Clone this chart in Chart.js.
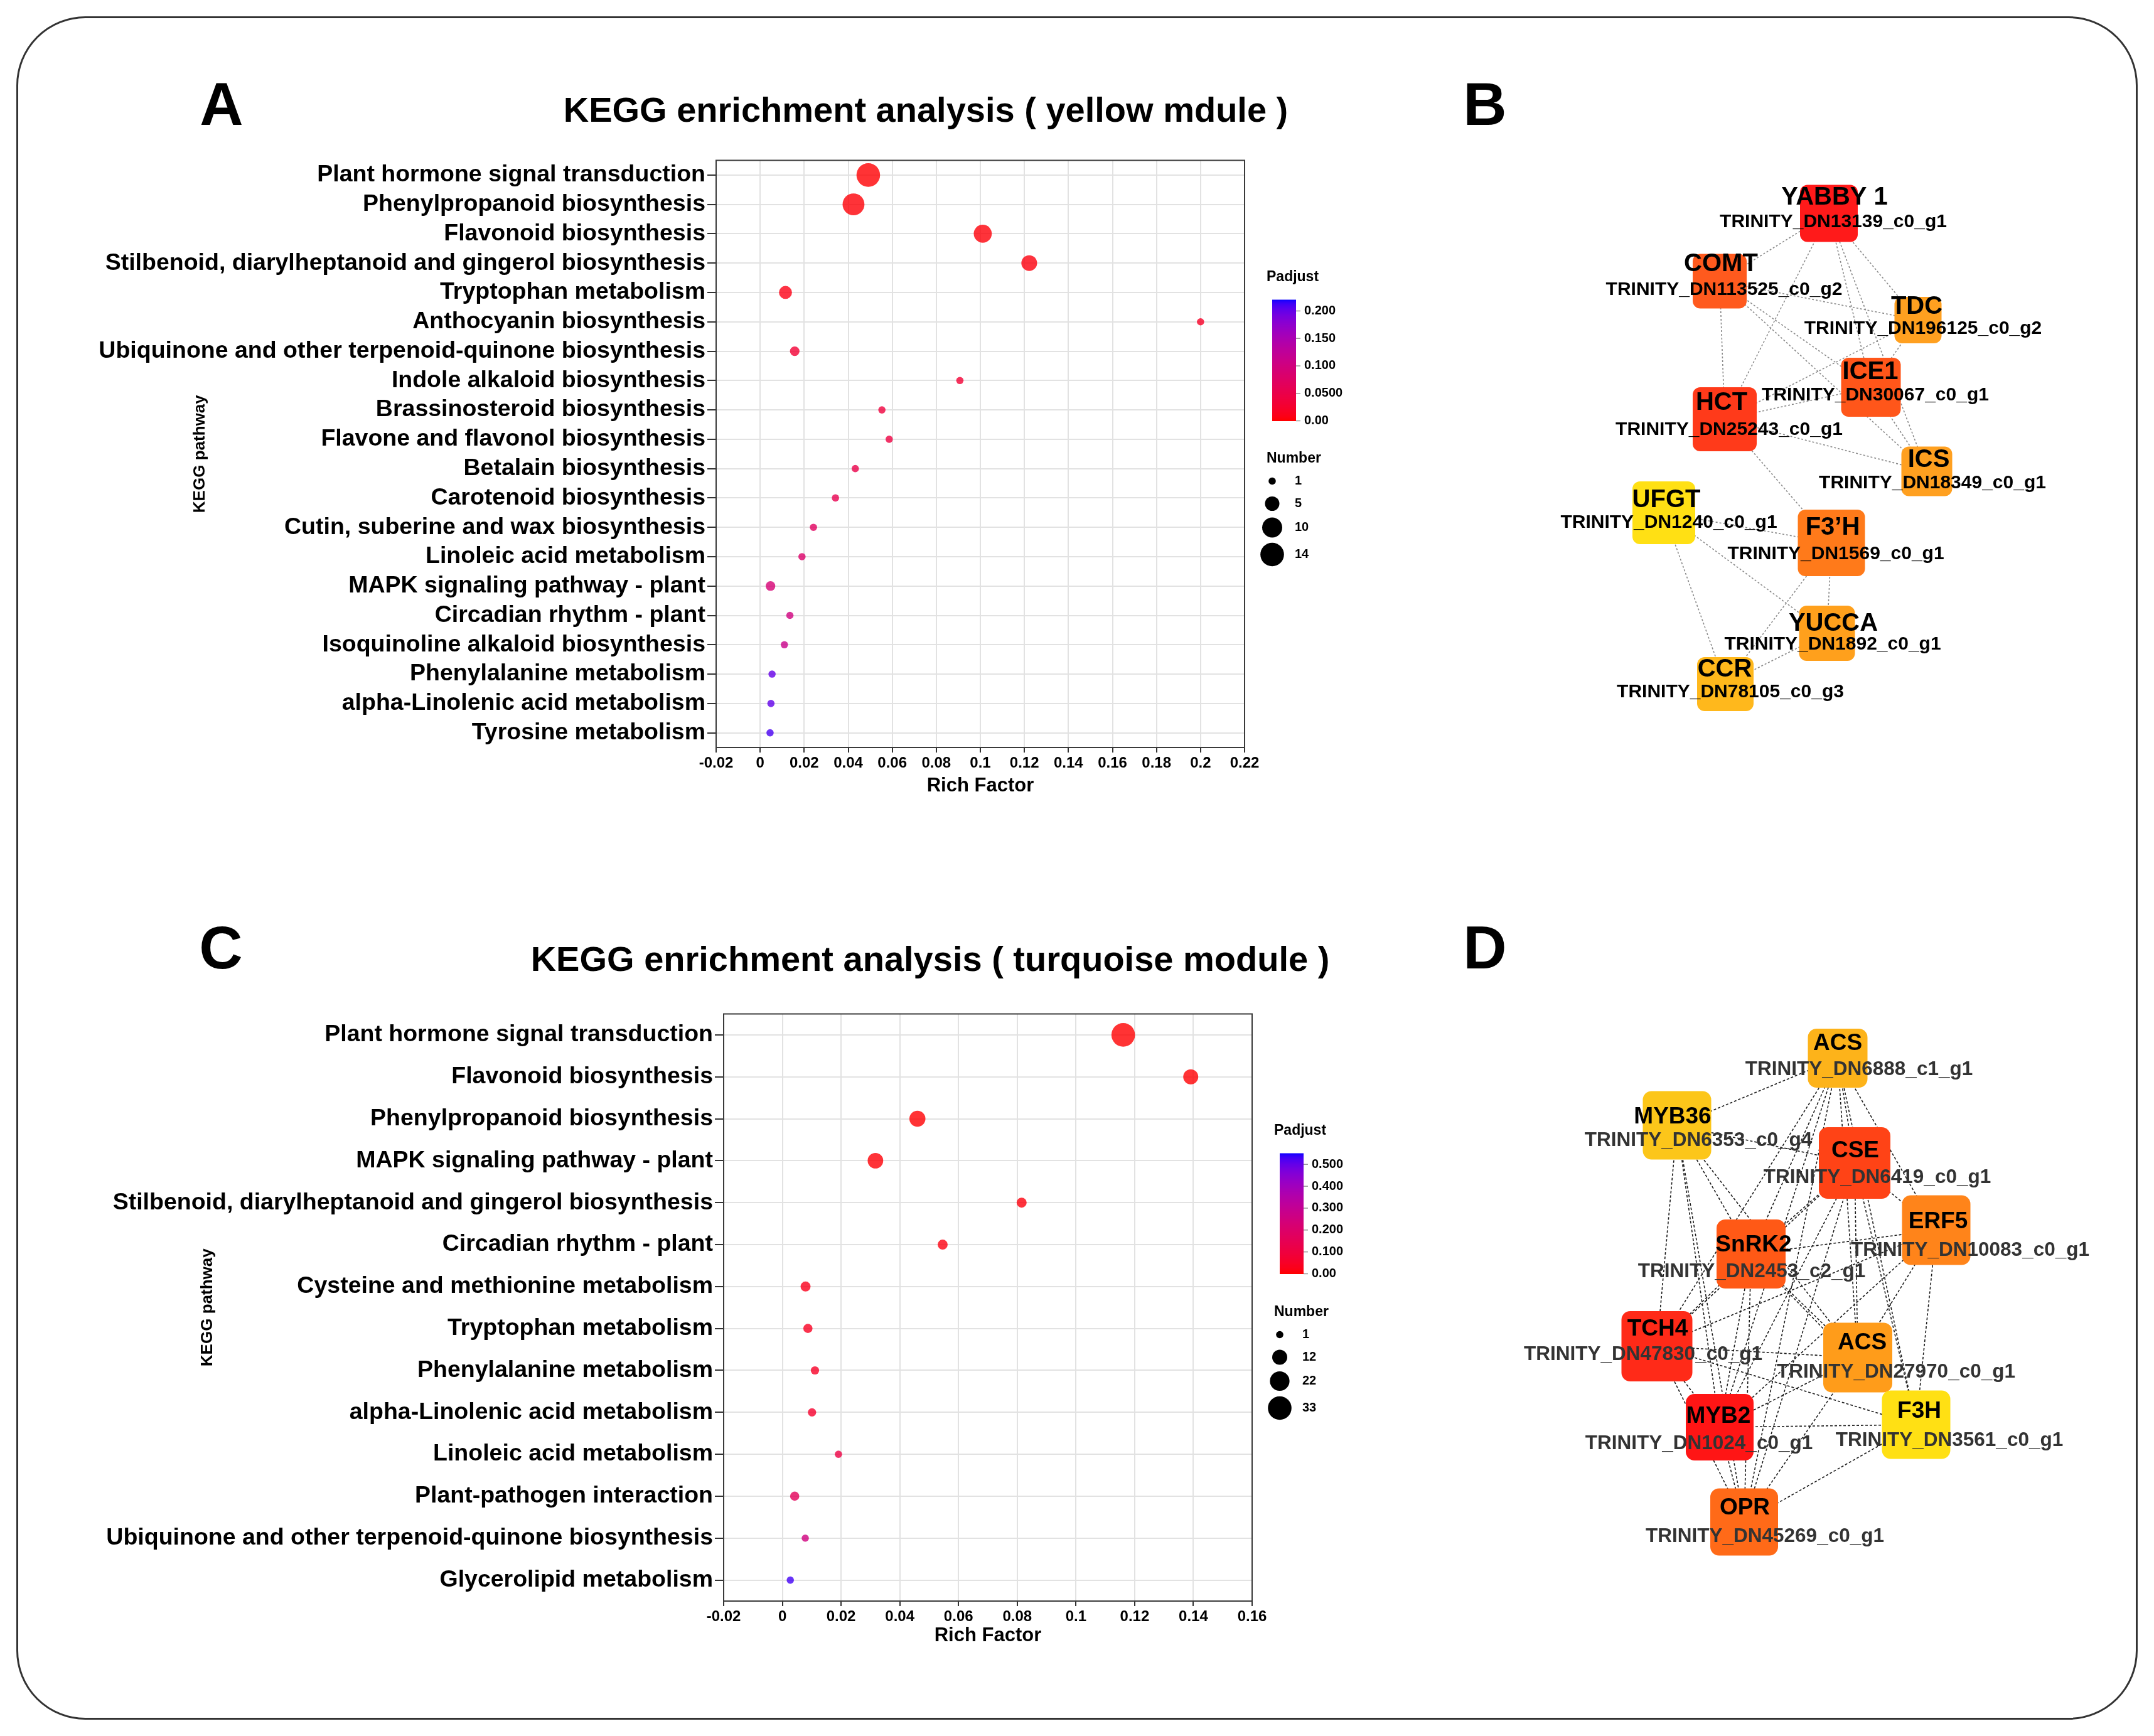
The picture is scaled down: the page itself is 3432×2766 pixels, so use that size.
<!DOCTYPE html>
<html>
<head>
<meta charset="utf-8">
<title>KEGG enrichment and hub gene networks</title>
<script src="https://cdn.jsdelivr.net/npm/chart.js@4.4.1/dist/chart.umd.min.js"></script>
<style>
  html, body { margin: 0; padding: 0; background: #fff; }
  #page { position: relative; width: 3432px; height: 2766px; overflow: hidden;
          font-family: "Liberation Sans", Arial, Helvetica, sans-serif; }
  #frame { position: absolute; left: 26px; top: 26px; width: 3374px; height: 2708px;
           border: 3px solid #333; border-radius: 110px; }
  .txt { position: absolute; transform: translate(-50%, -50%); line-height: 1;
         white-space: nowrap; font-weight: bold; color: #000; }
  .letter { font-size: 96px; }
  .title { font-size: 56px; }
  canvas { position: absolute; }
</style>
</head>
<body>
<div id="page">
  <div id="frame"></div>
  <div class="txt letter" style="left:353px;top:166px">A</div>
  <div class="txt letter" style="left:2366px;top:166px">B</div>
  <div class="txt letter" style="left:352px;top:1510px">C</div>
  <div class="txt letter" style="left:2366px;top:1510px">D</div>
  <div class="txt title" style="left:1475px;top:175px">KEGG enrichment analysis ( yellow mdule )</div>
  <div class="txt title" style="left:1482px;top:1528px">KEGG enrichment analysis ( turquoise module )</div>
  <canvas id="chartA" width="2190" height="1070" style="left:60px;top:230px"></canvas>
  <canvas id="chartB" width="1000" height="950" style="left:2380px;top:250px"></canvas>
  <canvas id="chartC" width="2190" height="1070" style="left:60px;top:1590px"></canvas>
  <canvas id="chartD" width="1000" height="1000" style="left:2380px;top:1560px"></canvas>
</div>

<script>
// ---- panel A : yellow module ----
const aPathways = [
  'Plant hormone signal transduction', 'Phenylpropanoid biosynthesis', 'Flavonoid biosynthesis',
  'Stilbenoid, diarylheptanoid and gingerol biosynthesis', 'Tryptophan metabolism',
  'Anthocyanin biosynthesis', 'Ubiquinone and other terpenoid-quinone biosynthesis',
  'Indole alkaloid biosynthesis', 'Brassinosteroid biosynthesis', 'Flavone and flavonol biosynthesis',
  'Betalain biosynthesis', 'Carotenoid biosynthesis', 'Cutin, suberine and wax biosynthesis',
  'Linoleic acid metabolism', 'MAPK signaling pathway - plant', 'Circadian rhythm - plant',
  'Isoquinoline alkaloid biosynthesis', 'Phenylalanine metabolism',
  'alpha-Linolenic acid metabolism', 'Tyrosine metabolism'
];
const aRichFactor = [0.0491, 0.0424, 0.1011, 0.1222, 0.0115, 0.2, 0.0157, 0.0907, 0.0553, 0.0586,
                     0.0432, 0.0342, 0.0242, 0.019, 0.0047, 0.0135, 0.011, 0.0054, 0.0049, 0.0045];
const aNumber = [14, 12, 8, 6, 4, 1, 2, 1, 1, 1, 1, 1, 1, 1, 2, 1, 1, 1, 1, 1];
const aPadjust = [0.001, 0.002, 0.003, 0.005, 0.008, 0.02, 0.03, 0.03, 0.038, 0.042,
                  0.05, 0.056, 0.07, 0.08, 0.09, 0.1, 0.112, 0.2, 0.202, 0.21];
const aXTicks = ['-0.02', '0', '0.02', '0.04', '0.06', '0.08', '0.1', '0.12', '0.14', '0.16', '0.18', '0.2', '0.22'];
const aPadjTicks = [0, 0.05, 0.1, 0.15, 0.2];
const aPadjLabels = ['0.00', '0.0500', '0.100', '0.150', '0.200'];
const aSizeBreaks = [1, 5, 10, 14];

// ---- panel C : turquoise module ----
const cPathways = [
  'Plant hormone signal transduction', 'Flavonoid biosynthesis', 'Phenylpropanoid biosynthesis',
  'MAPK signaling pathway - plant', 'Stilbenoid, diarylheptanoid and gingerol biosynthesis',
  'Circadian rhythm - plant', 'Cysteine and methionine metabolism', 'Tryptophan metabolism',
  'Phenylalanine metabolism', 'alpha-Linolenic acid metabolism', 'Linoleic acid metabolism',
  'Plant-pathogen interaction', 'Ubiquinone and other terpenoid-quinone biosynthesis',
  'Glycerolipid metabolism'
];
const cRichFactor = [0.1161, 0.1391, 0.046, 0.0317, 0.0815, 0.0546, 0.0079, 0.0087,
                     0.0111, 0.0101, 0.0191, 0.0042, 0.0078, 0.0027];
const cNumber = [33, 12, 14, 13, 4, 4, 4, 3, 2, 2, 1, 3, 1, 1];
const cPadjust = [0.001, 0.002, 0.003, 0.005, 0.01, 0.015, 0.03, 0.04, 0.05, 0.06, 0.11, 0.16, 0.25, 0.53];
const cXTicks = ['-0.02', '0', '0.02', '0.04', '0.06', '0.08', '0.1', '0.12', '0.14', '0.16'];
const cPadjTicks = [0, 0.1, 0.2, 0.3, 0.4, 0.5];
const cPadjLabels = ['0.00', '0.100', '0.200', '0.300', '0.400', '0.500'];
const cSizeBreaks = [1, 12, 22, 33];

// ---- panel B network ----
const bGenes = ['YABBY 1', 'COMT', 'TDC', 'ICE1', 'HCT', 'ICS', 'UFGT', 'F3’H', 'YUCCA', 'CCR'];
const bIds = ['TRINITY_DN13139_c0_g1', 'TRINITY_DN113525_c0_g2', 'TRINITY_DN196125_c0_g2',
              'TRINITY_DN30067_c0_g1', 'TRINITY_DN25243_c0_g1', 'TRINITY_DN18349_c0_g1',
              'TRINITY_DN1240_c0_g1', 'TRINITY_DN1569_c0_g1', 'TRINITY_DN1892_c0_g1',
              'TRINITY_DN78105_c0_g3'];
const bLayoutX = [534, 360, 676, 601, 368, 690, 271, 538, 531, 369];
const bLayoutY = [90, 198, 260, 367, 418, 501, 567, 615, 759, 840];
const bEdges = [[0,1],[0,4],[0,2],[0,3],[0,5],[1,2],[1,3],[1,5],[1,4],[2,4],[2,3],
                [3,4],[3,5],[4,5],[4,7],[6,7],[6,8],[6,9],[7,8],[7,9],[8,9]];

// ---- panel D network ----
const dGenes = ['ACS', 'MYB36', 'CSE', 'ERF5', 'SnRK2', 'TCH4', 'ACS', 'F3H', 'MYB2', 'OPR'];
const dIds = ['TRINITY_DN6888_c1_g1', 'TRINITY_DN6353_c0_g4', 'TRINITY_DN6419_c0_g1',
              'TRINITY_DN10083_c0_g1', 'TRINITY_DN2453_c2_g1', 'TRINITY_DN47830_c0_g1',
              'TRINITY_DN27970_c0_g1', 'TRINITY_DN3561_c0_g1', 'TRINITY_DN1024_c0_g1',
              'TRINITY_DN45269_c0_g1'];
const dLayoutX = [548, 292, 575, 705, 410, 260, 580, 673, 360, 399];
const dLayoutY = [126, 233, 293, 400, 438, 585, 603, 710, 714, 865];
const dEdges = [[0,1],[0,2],[0,3],[0,4],[0,5],[0,6],[0,7],[0,8],[0,9],
                [1,2],[1,4],[1,5],[1,6],[1,8],[1,9],
                [2,3],[2,4],[2,5],[2,6],[2,7],[2,8],[2,9],
                [3,4],[3,5],[3,6],[3,7],[3,8],
                [4,5],[4,6],[4,7],[4,8],[4,9],
                [5,6],[5,7],[5,8],[5,9],
                [6,7],[6,8],[6,9],[7,8],[7,9],[8,9]];

const FONT = '"Liberation Sans", Arial, Helvetica, sans-serif';
Chart.defaults.font.family = FONT;

// size scale like ggplot scale_size (area linear between the limits)
const R_MIN = 5.8, R_MAX = 18.8;
function bubbleRadius(n, lim) {
  const t = (n - lim[0]) / (lim[1] - lim[0]);
  return Math.sqrt(R_MIN * R_MIN + t * (R_MAX * R_MAX - R_MIN * R_MIN));
}

// red -> blue gradient interpolated in Lab space
function toLab(hex) {
  const v = [1, 3, 5].map(i => parseInt(hex.substr(i, 2), 16) / 255)
    .map(c => c <= 0.04045 ? c / 12.92 : Math.pow((c + 0.055) / 1.055, 2.4));
  const x = (v[0] * 0.4124 + v[1] * 0.3576 + v[2] * 0.1805) / 0.95047;
  const y = v[0] * 0.2126 + v[1] * 0.7152 + v[2] * 0.0722;
  const z = (v[0] * 0.0193 + v[1] * 0.1192 + v[2] * 0.9505) / 1.08883;
  const f = t => t > 0.008856 ? Math.cbrt(t) : 7.787 * t + 16 / 116;
  return [116 * f(y) - 16, 500 * (f(x) - f(y)), 200 * (f(y) - f(z))];
}
function fromLab(L, a, b) {
  const fy = (L + 16) / 116, fx = fy + a / 500, fz = fy - b / 200;
  const g = t => t * t * t > 0.008856 ? t * t * t : (t - 16 / 116) / 7.787;
  const x = g(fx) * 0.95047, y = g(fy), z = g(fz) * 1.08883;
  const lin = [x * 3.2406 - y * 1.5372 - z * 0.4986,
               -x * 0.9689 + y * 1.8758 + z * 0.0415,
               x * 0.0557 - y * 0.2040 + z * 1.0570];
  return lin.map(c => {
    c = c <= 0.0031308 ? 12.92 * c : 1.055 * Math.pow(Math.max(c, 0), 1 / 2.4) - 0.055;
    return Math.round(Math.min(1, Math.max(0, c)) * 255);
  });
}
const LOW = toLab('#ff0000'), HIGH = toLab('#0000ff');
function padjColor(p, max, alpha) {
  const t = Math.min(1, Math.max(0, p / max));
  const rgb = fromLab(LOW[0] + t * (HIGH[0] - LOW[0]), LOW[1] + t * (HIGH[1] - LOW[1]), LOW[2] + t * (HIGH[2] - LOW[2]));
  return `rgba(${rgb[0]},${rgb[1]},${rgb[2]},${alpha})`;
}

// dark frame round the plot area
const plotFrame = {
  id: 'plotFrame',
  beforeDatasetsDraw(chart) {
    const { ctx, chartArea: { left, top, width, height } } = chart;
    ctx.save();
    ctx.strokeStyle = '#3a3a3a';
    ctx.lineWidth = 2;
    ctx.strokeRect(left, top, width, height);
    ctx.restore();
  }
};

// colour bar, size key and the y axis title
const keggLegend = {
  id: 'keggLegend',
  afterDraw(chart, args, o) {
    const { ctx, chartArea: { left, top, right, bottom } } = chart;
    ctx.save();
    ctx.textBaseline = 'middle';
    ctx.textAlign = 'left';
    ctx.fillStyle = '#000';
    ctx.font = 'bold 23px ' + FONT;
    ctx.fillText('Padjust', right + 35, top + 186);

    const bx = right + 44, by = top + 222, bw = 38, bh = o.barHeight;
    for (let i = 0; i < bh; i++) {
      ctx.fillStyle = padjColor((bh - i - 0.5) / bh * o.padjMax, o.padjMax, 1);
      ctx.fillRect(bx, by + i, bw, 1.5);
    }
    ctx.font = 'bold 20px ' + FONT;
    o.padjTicks.forEach((v, i) => {
      const y = by + bh - v / o.padjMax * bh;
      ctx.strokeStyle = '#999';
      ctx.lineWidth = 1.5;
      ctx.beginPath();
      ctx.moveTo(bx + bw, y);
      ctx.lineTo(bx + bw + 7, y);
      ctx.stroke();
      ctx.fillStyle = '#000';
      ctx.fillText(o.padjLabels[i], right + 95, y);
    });

    ctx.font = 'bold 23px ' + FONT;
    ctx.fillText('Number', right + 35, top + 475);
    ctx.font = 'bold 20px ' + FONT;
    o.sizeBreaks.forEach((n, i) => {
      const y = top + o.keyOffsets[i];
      ctx.beginPath();
      ctx.arc(right + 44, y, bubbleRadius(n, o.sizeLim), 0, Math.PI * 2);
      ctx.fill();
      ctx.fillText(String(n), right + 80, y);
    });

    ctx.translate(left - 822, (top + bottom) / 2);
    ctx.rotate(-Math.PI / 2);
    ctx.textAlign = 'center';
    ctx.font = 'bold 26px ' + FONT;
    ctx.fillText('KEGG pathway', 0, 0);
    ctx.restore();
  }
};

function bubbleChart(id, d) {
  const sizeLim = [Math.min(...d.number), Math.max(...d.number)];
  return new Chart(document.getElementById(id), {
    type: 'bubble',
    data: {
      datasets: [{
        data: d.pathways.map((p, i) => ({ x: d.rich[i], y: p, r: bubbleRadius(d.number[i], sizeLim) })),
        backgroundColor: d.padj.map(p => padjColor(p, d.padjMax, 0.8)),
        borderWidth: 0,
        hoverBorderWidth: 0
      }]
    },
    options: {
      responsive: false,
      animation: false,
      devicePixelRatio: 1,
      events: [],
      layout: { autoPadding: false, padding: { top: 24, right: d.padRight, left: 0, bottom: 0 } },
      plugins: {
        legend: { display: false },
        tooltip: { enabled: false },
        keggLegend: {
          padjMax: d.padjMax, padjTicks: d.padjTicks, padjLabels: d.padjLabels,
          barHeight: d.barHeight, sizeBreaks: d.sizeBreaks, sizeLim,
          keyOffsets: [511, 547, 585, 628]
        }
      },
      scales: {
        x: {
          type: 'linear', min: -0.02, max: d.xMax,
          ticks: {
            stepSize: 0.02, autoSkip: false, maxRotation: 0, padding: 3, color: '#000',
            font: { size: 24, weight: 'bold' },
            callback: (v, i) => d.xTicks[i]
          },
          grid: { color: '#e2e2e2', lineWidth: 2, tickColor: '#333', tickLength: 8 },
          border: { display: false },
          title: {
            display: true, text: 'Rich Factor', color: '#000',
            font: { size: 31, weight: 'bold' }, padding: { top: 0, bottom: d.titlePad }
          },
          afterFit: s => { s.height = 109; }
        },
        y: {
          type: 'category', labels: d.pathways, offset: true,
          ticks: { autoSkip: false, padding: 3, color: '#000', font: { size: 37.5, weight: 'bold' } },
          grid: { color: '#e2e2e2', lineWidth: 2, tickColor: '#333', tickLength: 14 },
          border: { display: false },
          afterFit: s => { s.width = d.yWidth; }
        }
      }
    },
    plugins: [plotFrame, keggLegend]
  });
}

bubbleChart('chartA', {
  pathways: aPathways, rich: aRichFactor, number: aNumber, padj: aPadjust,
  xMax: 0.22, xTicks: aXTicks, padjMax: 0.2205, padjTicks: aPadjTicks, padjLabels: aPadjLabels,
  sizeBreaks: aSizeBreaks, barHeight: 193, yWidth: 1081, padRight: 267, titlePad: 29
});
bubbleChart('chartC', {
  pathways: cPathways, rich: cRichFactor, number: cNumber, padj: cPadjust,
  xMax: 0.16, xTicks: cXTicks, padjMax: 0.551, padjTicks: cPadjTicks, padjLabels: cPadjLabels,
  sizeBreaks: cSizeBreaks, barHeight: 192, yWidth: 1093, padRight: 255, titlePad: 35
});

// ---- network drawing ----
function roundRect(ctx, x, y, w, h, r) {
  ctx.beginPath();
  ctx.moveTo(x + r, y);
  ctx.arcTo(x + w, y, x + w, y + h, r);
  ctx.arcTo(x + w, y + h, x, y + h, r);
  ctx.arcTo(x, y + h, x, y, r);
  ctx.arcTo(x, y, x + w, y, r);
  ctx.closePath();
}

const nodeBoxes = {
  id: 'nodeBoxes',
  afterDatasetsDraw(chart, args, o) {
    const meta = chart.getDatasetMeta(chart.data.datasets.length - 1);
    const { ctx, scales: { x: xs, y: ys } } = chart;
    ctx.save();
    meta.data.forEach((pt, i) => {
      const [bw, bh] = o.box[i];
      const w = Math.abs(xs.getPixelForValue(bw) - xs.getPixelForValue(0));
      const h = Math.abs(ys.getPixelForValue(bh) - ys.getPixelForValue(0));
      ctx.fillStyle = o.fill[i];
      roundRect(ctx, pt.x - w / 2, pt.y - h / 2, w, h, o.corner);
      ctx.fill();
    });
    ctx.textAlign = 'center';
    ctx.textBaseline = 'middle';
    meta.data.forEach((pt, i) => {
      ctx.fillStyle = '#000';
      ctx.font = `bold ${o.nameSize}px ${FONT}`;
      ctx.fillText(o.genes[i], pt.x + o.nameShift[i][0], pt.y + o.nameShift[i][1]);
      ctx.fillStyle = o.idColor;
      ctx.font = `bold ${o.idSize}px ${FONT}`;
      ctx.fillText(o.ids[i], pt.x + o.idShift[i][0], pt.y + o.idShift[i][1]);
    });
    ctx.restore();
  }
};

function networkChart(id, n) {
  const canvas = document.getElementById(id);
  const edgeSets = n.edges.map(([a, b]) => ({
    data: [{ x: n.x[a], y: n.y[a] }, { x: n.x[b], y: n.y[b] }],
    showLine: true, pointRadius: 0, borderColor: n.edgeColor, borderWidth: n.edgeWidth,
    borderDash: n.edgeDash, fill: false
  }));
  const nodeSet = { data: n.x.map((x, i) => ({ x, y: n.y[i] })), pointRadius: 0, showLine: false };
  return new Chart(canvas, {
    type: 'scatter',
    data: { datasets: [...edgeSets, nodeSet] },
    options: {
      responsive: false,
      animation: false,
      devicePixelRatio: 1,
      events: [],
      layout: { autoPadding: false, padding: 0 },
      plugins: {
        legend: { display: false },
        tooltip: { enabled: false },
        nodeBoxes: n.style
      },
      scales: {
        x: { type: 'linear', min: 0, max: canvas.width, display: false },
        y: { type: 'linear', min: 0, max: canvas.height, reverse: true, display: false }
      }
    },
    plugins: [nodeBoxes]
  });
}

networkChart('chartB', {
  x: bLayoutX, y: bLayoutY, edges: bEdges,
  edgeColor: '#8a8a8a', edgeWidth: 1.6, edgeDash: [3, 3],
  style: {
    genes: bGenes, ids: bIds, nameSize: 40, idSize: 30, idColor: '#000', corner: 12,
    box: [[92,91],[86,87],[75,74],[95,94],[102,102],[81,79],[100,100],[107,106],[89,88],[90,86]],
    fill: ['#ff1a1a','#ff5a1e','#ffa020','#ff561a','#ff3a1a','#ffa020','#ffe014','#ff7a1a','#ffa01c','#ffb81c'],
    nameShift: [[9,-25],[2,-27],[-2,-21],[-1,-24],[-5,-26],[3,-18],[4,-20],[2,-24],[10,-15],[-1,-23]],
    idShift: [[7,14],[7,14],[8,14],[7,13],[7,17],[9,19],[8,16],[7,18],[9,18],[8,13]]
  }
});

networkChart('chartD', {
  x: dLayoutX, y: dLayoutY, edges: dEdges,
  edgeColor: '#1a1a1a', edgeWidth: 1.6, edgeDash: [4, 3],
  style: {
    genes: dGenes, ids: dIds, nameSize: 37, idSize: 31.5, idColor: '#333', corner: 14,
    box: [[95,94],[109,109],[114,114],[109,111],[110,110],[113,112],[110,111],[109,109],[108,106],[108,107]],
    fill: ['#fdb31a','#fcc61a','#ff4316','#ff841a','#ff5916','#ff2a18','#ff9c1a','#ffe014','#ff1515','#ff6a18'],
    nameShift: [[0,-23],[-7,-13],[1,-19],[3,-13],[4,-14],[1,-27],[7,-23],[5,-21],[-2,-17],[1,-22]],
    idShift: [[34,18],[34,24],[36,23],[54,32],[1,28],[-22,13],[61,23],[53,25],[-33,26],[33,23]]
  }
});
</script>
</body>
</html>
